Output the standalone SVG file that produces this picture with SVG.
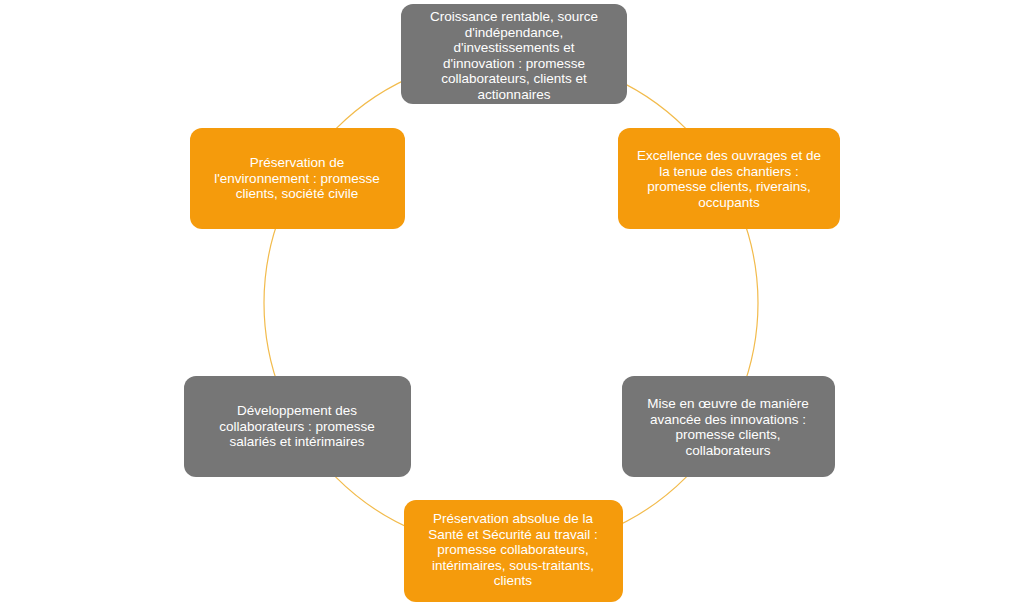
<svg xmlns="http://www.w3.org/2000/svg" width="1024" height="606" viewBox="0 0 1024 606">
<style>
.g{fill:#767676}.o{fill:#f59b0c}
text{font-family:"Liberation Sans",Arial,sans-serif;font-size:13.5px;fill:#fff;text-anchor:middle}
</style>
<rect width="1024" height="606" fill="#fff"/>
<g id="connectors"><circle cx="511" cy="303" r="247" fill="none" stroke="#f2bb4c" stroke-width="1.2"/></g>
<g id="n1"><rect class="g" x="401" y="4" width="226" height="100" rx="12"/>
<text x="514" y="21">Croissance rentable, source<tspan x="514" dy="15.5">d'indépendance,</tspan><tspan x="514" dy="15.5">d'investissements et</tspan><tspan x="514" dy="15.5">d'innovation : promesse</tspan><tspan x="514" dy="15.5">collaborateurs, clients et</tspan><tspan x="514" dy="15.5">actionnaires</tspan></text></g>
<g id="n2"><rect class="o" x="618" y="128" width="222" height="101" rx="12"/>
<text x="729" y="160">Excellence des ouvrages et de<tspan x="729" dy="15.5">la tenue des chantiers :</tspan><tspan x="729" dy="15.5">promesse clients, riverains,</tspan><tspan x="729" dy="15.5">occupants</tspan></text></g>
<g id="n3"><rect class="g" x="622" y="376" width="213" height="101" rx="12"/>
<text x="728" y="408">Mise en œuvre de manière<tspan x="728" dy="15.5">avancée des innovations :</tspan><tspan x="728" dy="15.5">promesse clients,</tspan><tspan x="728" dy="15.5">collaborateurs</tspan></text></g>
<g id="n4"><rect class="o" x="404" y="500" width="219" height="102" rx="12"/>
<text x="513" y="523">Préservation absolue de la<tspan x="513" dy="15.5">Santé et Sécurité au travail :</tspan><tspan x="513" dy="15.5">promesse collaborateurs,</tspan><tspan x="513" dy="15.5">intérimaires, sous-traitants,</tspan><tspan x="513" dy="15.5">clients</tspan></text></g>
<g id="n5"><rect class="g" x="184" y="376" width="227" height="101" rx="12"/>
<text x="297" y="415">Développement des<tspan x="297" dy="15.5">collaborateurs : promesse</tspan><tspan x="297" dy="15.5">salariés et intérimaires</tspan></text></g>
<g id="n6"><rect class="o" x="190" y="128" width="215" height="101" rx="12"/>
<text x="297" y="167">Préservation de<tspan x="297" dy="15.5">l'environnement : promesse</tspan><tspan x="297" dy="15.5">clients, société civile</tspan></text></g>
</svg>
